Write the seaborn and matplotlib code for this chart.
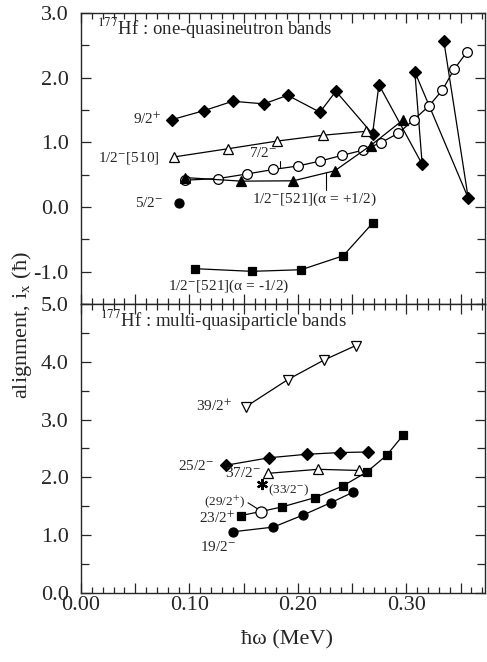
import matplotlib
matplotlib.use("Agg")
import matplotlib.pyplot as plt
import seaborn as sns
from matplotlib.ticker import MultipleLocator, FuncFormatter

# ---------------- data: top panel (one-quasineutron bands) ----------------
b92_x = [0.0836, 0.1134, 0.1398, 0.1687, 0.1905, 0.2203, 0.2350, 0.2688,
         0.2747, 0.3146, 0.3078, 0.3570, 0.3346]
b92_y = [1.35, 1.49, 1.635, 1.595, 1.728, 1.466, 1.79, 1.13,
         1.89, 0.66, 2.09, 0.14, 2.56]

b510_x = [0.0860, 0.1352, 0.1810, 0.2234, 0.2627]
b510_y = [0.775, 0.90, 1.02, 1.11, 1.17]

b72_x = [0.0961, 0.1266, 0.1527, 0.1773, 0.2003, 0.2203, 0.2410, 0.2596,
         0.2765, 0.2925, 0.3069, 0.3207, 0.3333, 0.3440, 0.3560]
b72_y = [0.415, 0.44, 0.51, 0.58, 0.635, 0.71, 0.80, 0.877,
         0.995, 1.14, 1.35, 1.56, 1.81, 2.13, 2.40]

b521p_x = [0.0961, 0.1477, 0.1957, 0.2340, 0.2670, 0.2965]
b521p_y = [0.455, 0.40, 0.405, 0.56, 0.95, 1.34]

b52_x = [0.0903]
b52_y = [0.066]

b521m_x = [0.1054, 0.1576, 0.2030, 0.2418, 0.2694]
b521m_y = [-0.954, -0.995, -0.97, -0.754, -0.24]

# ---------------- data: bottom panel (multi-quasiparticle bands) ----------------
b392_x = [0.1518, 0.1905, 0.2240, 0.2532]
b392_y = [3.22, 3.69, 4.03, 4.28]

b252_x = [0.1336, 0.1736, 0.2080, 0.2387, 0.2648]
b252_y = [2.21, 2.34, 2.40, 2.43, 2.44]

b372_x = [0.1720, 0.2187, 0.2562]
b372_y = [2.07, 2.14, 2.12]

b332_x = [0.1665]
b332_y = [1.88]

b292_x = [0.1659]
b292_y = [1.41]

b232_x = [0.1475, 0.1659, 0.1855, 0.2157, 0.2412, 0.2633, 0.2817, 0.2970]
b232_y = [1.34, 1.41, 1.49, 1.65, 1.85, 2.09, 2.38, 2.73]
b232_sq_x = [0.1475, 0.1855, 0.2157, 0.2412, 0.2633, 0.2817, 0.2970]
b232_sq_y = [1.34, 1.49, 1.65, 1.85, 2.09, 2.38, 2.73]

b192_x = [0.1404, 0.1773, 0.2049, 0.2301, 0.2504]
b192_y = [1.06, 1.14, 1.35, 1.56, 1.74]

xticklabels = ["0.00", "0.10", "0.20", "0.30"]

# ---------------- style ----------------
sns.set_theme(style="ticks")
plt.rcParams["font.family"] = ["Liberation Serif", "DejaVu Serif"]
plt.rcParams["mathtext.fontset"] = "stix"
plt.rcParams["axes.linewidth"] = 1.0

W, H = 487, 662
fig = plt.figure(figsize=(W / 100, H / 100), dpi=100)
left, right = 81 / W, 485 / W
top_t, sep, bot_b = 1 - 13 / H, 1 - 304 / H, 1 - 593 / H
ax1 = fig.add_axes([left, sep, right - left, top_t - sep])
ax2 = fig.add_axes([left, bot_b, right - left, sep - bot_b])

LW = 0.9


def band(ax, x, y, marker, filled=True, ms=6.5, line=True, mew=0.9):
    sns.lineplot(x=x, y=y, ax=ax, sort=False, estimator=None,
                 color="black", lw=LW if line else 0, marker=marker,
                 markersize=ms, markeredgecolor="black", markeredgewidth=mew,
                 markerfacecolor="black" if filled else "white", zorder=3)


# top panel
band(ax1, b92_x, b92_y, "D", ms=6)
band(ax1, b510_x, b510_y, "^", filled=False, ms=7)
band(ax1, b72_x, b72_y, "o", filled=False, ms=7)
band(ax1, b521p_x, b521p_y, "^", ms=7)
band(ax1, b52_x, b52_y, "o", ms=6.5, line=False)
band(ax1, b521m_x, b521m_y, "s", ms=6)

# bottom panel
band(ax2, b392_x, b392_y, "v", filled=False, ms=7.5)
band(ax2, b252_x, b252_y, "D", ms=6)
band(ax2, b372_x, b372_y, "^", filled=False, ms=7.5)
band(ax2, b232_x, b232_y, None)
band(ax2, b232_sq_x, b232_sq_y, "s", ms=6, line=False)
band(ax2, b292_x, b292_y, "o", filled=False, ms=8, line=False)
band(ax2, b192_x, b192_y, "o", ms=6.5)
band(ax2, b332_x, b332_y, (6, 2, 0), ms=8, line=False, mew=1.6)

# axes formatting
for ax in (ax1, ax2):
    ax.set_xlim(0, 0.3725)
    ax.xaxis.set_major_locator(MultipleLocator(0.05))
    ax.xaxis.set_minor_locator(MultipleLocator(0.01))
    ax.yaxis.set_major_locator(MultipleLocator(1.0))
    ax.yaxis.set_minor_locator(MultipleLocator(0.5))
    ax.tick_params(which="both", direction="in", top=True, right=True,
                   labelsize=16, width=0.9)
    ax.tick_params(which="major", length=7)
    ax.tick_params(which="minor", length=4)
    ax.tick_params(axis="y", which="minor", length=6)
    ax.tick_params(axis="y", pad=9)
    ax.yaxis.set_major_formatter(FuncFormatter(lambda v, p: f"{v:.1f}"))
    ax.set_xlabel("")
    ax.set_ylabel("")

ax1.set_ylim(-1.5, 3.0)
ax2.set_ylim(0.0, 5.0)
ax1.tick_params(axis="x", labelbottom=False)


def xfmt(v, p):
    k = round(v / 0.1, 6)
    if abs(k - round(k)) < 1e-6:
        idx = int(round(k))
        if 0 <= idx < len(xticklabels):
            return xticklabels[idx]
    return ""


ax2.xaxis.set_major_formatter(FuncFormatter(xfmt))
ax2.tick_params(axis="x", pad=2)

# panel titles
ax1.text(0.0150, 2.77, r"$^{177}$Hf : one-quasineutron bands", fontsize=13.5,
         ha="left", va="center")
ax2.text(0.0175, 4.73, r"$^{177}$Hf : multi-quasiparticle bands", fontsize=13.5,
         ha="left", va="center")

fs = 11
# top annotations
ax1.text(0.0740, 1.35, r"9/2$^{+}$", fontsize=fs, ha="right", va="center")
ax1.text(0.0720, 0.755, r"1/2$^{-}$[510]", fontsize=fs, ha="right", va="center")
ax1.text(0.1810, 0.84, r"7/2$^{-}$", fontsize=fs, ha="right", va="center")
ax1.plot([0.1835, 0.1835], [0.71, 0.62], color="black", lw=0.8)
ax1.text(0.0760, 0.06, r"5/2$^{-}$", fontsize=fs, ha="right", va="center")
ax1.text(0.1580, 0.12, r"1/2$^{-}$[521](α = +1/2)", fontsize=fs,
         ha="left", va="center")
ax1.plot([0.2260, 0.2260], [0.27, 0.52], color="black", lw=0.8)
ax1.text(0.0800, -1.23, r"1/2$^{-}$[521](α = -1/2)", fontsize=fs,
         ha="left", va="center")

# bottom annotations
ax2.text(0.1390, 3.23, r"39/2$^{+}$", fontsize=fs, ha="right", va="center")
ax2.text(0.1230, 2.20, r"25/2$^{-}$", fontsize=fs, ha="right", va="center")
ax2.text(0.1660, 2.08, r"37/2$^{-}$", fontsize=fs, ha="right", va="center")
ax2.text(0.1720, 1.78, r"(33/2$^{-}$)", fontsize=fs - 1.5, ha="left", va="center")
ax2.text(0.1515, 1.59, r"(29/2$^{+}$)", fontsize=fs - 1.5, ha="right", va="center")
ax2.plot([0.1540, 0.1625], [1.56, 1.46], color="black", lw=0.8)
ax2.text(0.1425, 1.30, r"23/2$^{+}$", fontsize=fs, ha="right", va="center")
ax2.text(0.1425, 0.79, r"19/2$^{-}$", fontsize=fs, ha="right", va="center")

# axis labels
fig.text(22 / W, 1 - 325 / H, "alignment, i$_{\\mathrm{x}}$ (ħ)",
         rotation=90, ha="center", va="center", fontsize=16)
fig.text(287 / W, 1 - 640 / H, "ħω (MeV)", ha="center",
         va="center", fontsize=16)

fig.savefig("out.png", dpi=100)
